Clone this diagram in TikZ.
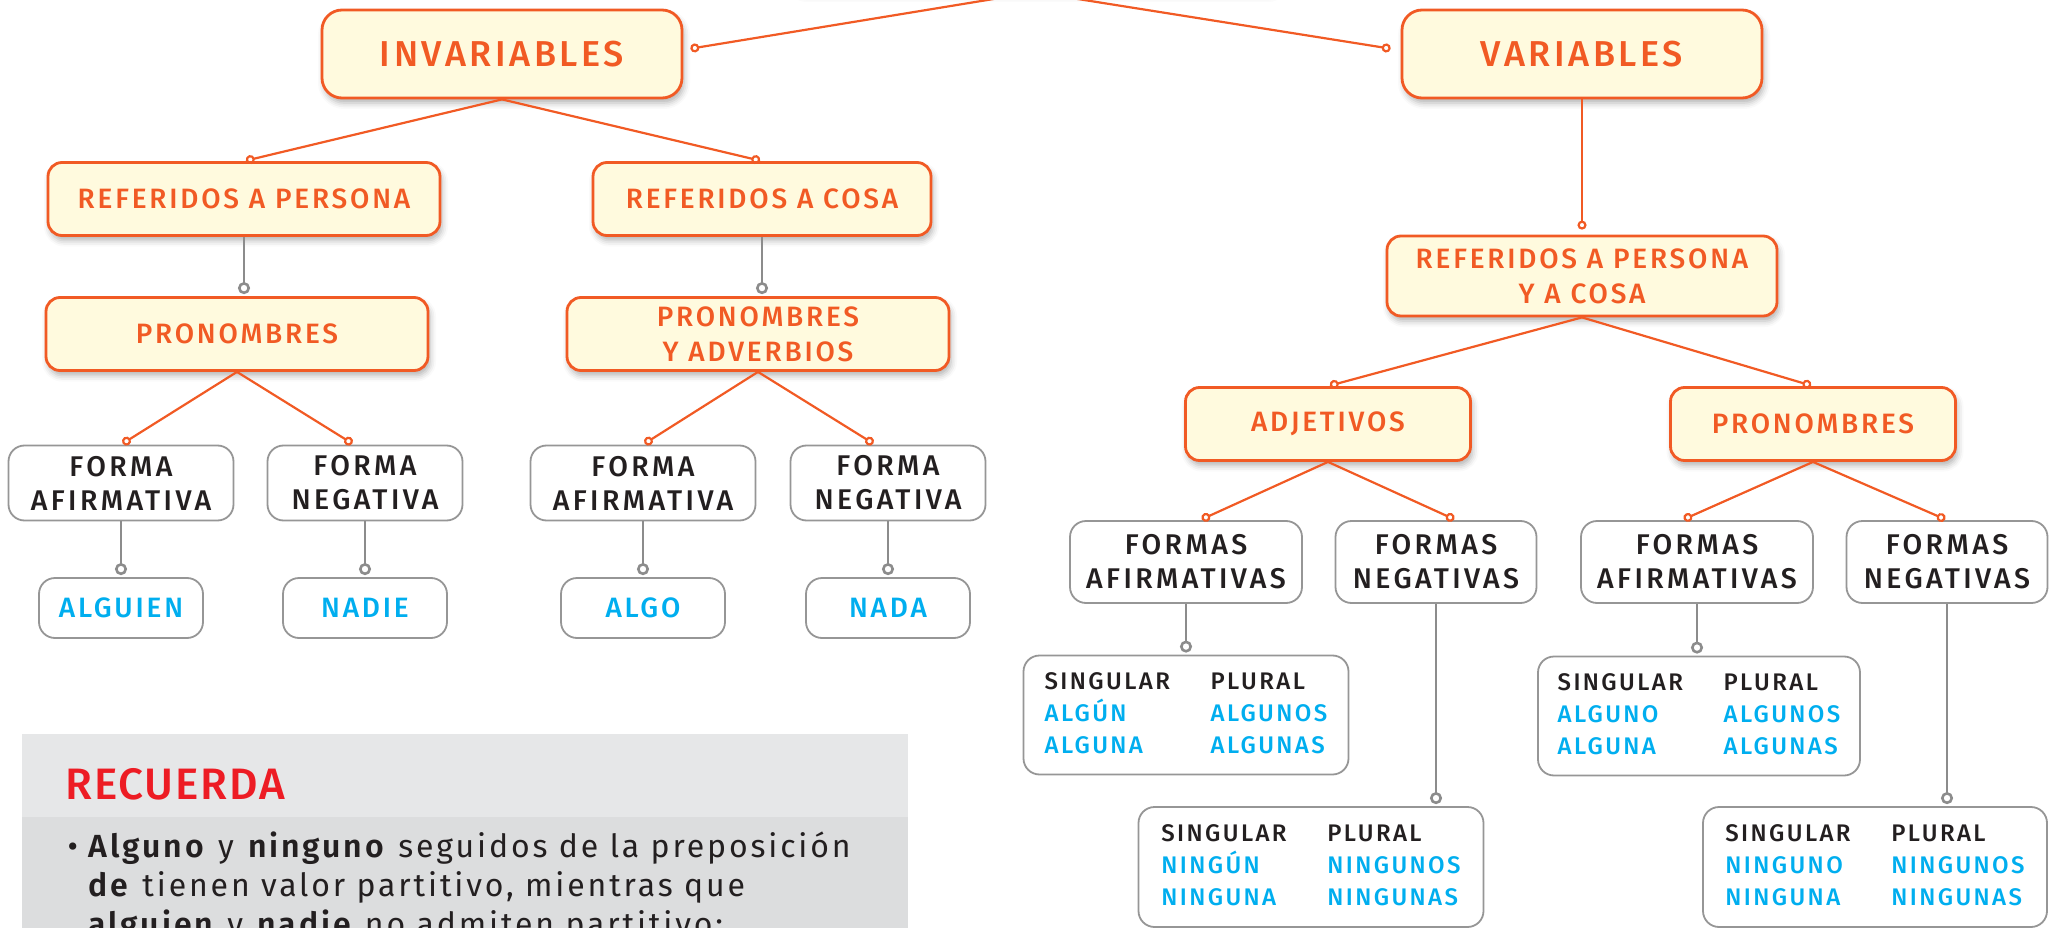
\documentclass[tikz,border=0pt]{standalone}
\usepackage{fontspec}
\setmainfont{Fira Sans}[BoldFont={Fira Sans SemiBold}, LetterSpace=9]
\newfontfamily\lblfont{Fira Sans Medium}[LetterSpace=10]
\newfontfamily\grfont{Fira Sans Medium}[LetterSpace=12]
\newfontfamily\headfont{Fira Sans Medium}[LetterSpace=4]
\usetikzlibrary{positioning,arrows.meta,shadows.blur}
\definecolor{orng}{RGB}{241,90,36}
\definecolor{cream}{RGB}{255,250,222}
\definecolor{azul}{RGB}{0,174,239}
\definecolor{ink}{RGB}{35,31,32}
\definecolor{gline}{RGB}{140,140,140}
\definecolor{gborder}{RGB}{150,150,150}
\definecolor{hdrgray}{RGB}{230,231,232}
\definecolor{bodygray}{RGB}{220,221,222}
\definecolor{rojo}{RGB}{237,28,36}
\newcommand{\tabla}[4]{\begin{tabular}{@{}l@{}l@{}}\makebox[166pt][l]{\color{ink}SINGULAR} & \color{ink}PLURAL\\ \makebox[166pt][l]{#1} & #3\\ \makebox[166pt][l]{#2} & #4\end{tabular}}
\tikzset{>=latex}
\tikzset{
  obox/.style={draw=orng, line width=2.8pt, fill=cream, rounded corners=14pt, text=orng, align=center,
    font=\lblfont\fontsize{28}{35}\selectfont, minimum height=73pt,
    blur shadow={shadow xshift=2pt, shadow yshift=-5pt, shadow blur radius=6pt, shadow opacity=30}},
  bigbox/.style={obox, rounded corners=20pt, minimum width=360pt, minimum height=88pt, font=\lblfont\fontsize{36}{40}\selectfont},
  gbox/.style={draw=gborder, line width=1.8pt, fill=white, rounded corners=16pt, text=ink, align=center,
    font=\grfont\fontsize{28.5}{34}\selectfont, minimum height=75pt},
  wbox/.style={gbox, text=azul, font=\lblfont\fontsize{28}{34}\selectfont, minimum width=164pt, minimum height=60pt},
  tbox/.style={gbox, text=azul, font=\lblfont\fontsize{24}{32}\selectfont, minimum height=119pt, align=left},
  olink/.style={draw=orng, line width=2.2pt, -{Circle[open,length=9pt,width=9pt]}, shorten >=2pt},
  glink/.style={draw=gline, line width=2.6pt, -{Circle[open,length=12pt,width=12pt]}, shorten >=2pt},
}
\begin{document}
\begin{tikzpicture}[x=1pt,y=-1pt]
\useasboundingbox (0,0) rectangle (2054,928);
\clip (0,0) rectangle (2054,928);
\fill[hdrgray] (22,734) rectangle (908,817);
\fill[bodygray] (22,817) rectangle (908,940);
\node[anchor=base west, text=rojo, font=\headfont\fontsize{44}{48}\selectfont] (rec) at (62,799) {RECUERDA};
\node[anchor=base west, text=ink, font=\fontsize{32}{39}\selectfont] (l1) at (64,857) {\makebox[21pt][l]{•}\textbf{Alguno} y \textbf{ninguno} seguidos de la preposición};
\node[anchor=base west, text=ink, font=\fontsize{32}{39}\selectfont] (l2) at (85,896) {\textbf{de} tienen valor partitivo, mientras que};
\node[anchor=base west, text=ink, font=\fontsize{32}{39}\selectfont] (l3) at (85,935) {\textbf{alguien} y \textbf{nadie} no admiten partitivo:};

\node[fill=white, minimum width=490pt, minimum height=64pt, rounded corners=14pt,
  blur shadow={shadow yshift=-4pt, shadow blur radius=6pt, shadow opacity=25}] (n0) at (1035,-40) {};
\node[bigbox] (n1) at (502,54) {INVARIABLES};
\node[bigbox, right of=n1, node distance=1080pt] (n2) {VARIABLES};
\node[obox, minimum width=392pt, below of=n1, node distance=145pt, xshift=-258pt] (n3) {REFERIDOS A PERSONA};
\node[obox, minimum width=338pt, right of=n3, node distance=518pt] (n4) {REFERIDOS A COSA};
\node[obox, minimum width=382pt, below of=n3, node distance=135pt, xshift=-7pt] (n5) {PRONOMBRES};
\node[obox, minimum width=382pt, below of=n4, node distance=135pt, xshift=-4pt] (n6) {PRONOMBRES\\Y ADVERBIOS};
\node[gbox, minimum width=225pt, below of=n5, node distance=149pt, xshift=-116pt] (n7) {FORMA\\AFIRMATIVA};
\node[gbox, minimum width=195pt, right of=n7, node distance=244pt] (n8) {FORMA\\NEGATIVA};
\node[gbox, minimum width=225pt, below of=n6, node distance=149pt, xshift=-115pt] (n9) {FORMA\\AFIRMATIVA};
\node[gbox, minimum width=195pt, right of=n9, node distance=245pt] (n10) {FORMA\\NEGATIVA};
\node[wbox, below of=n7, node distance=125pt] (n11) {ALGUIEN};
\node[wbox, below of=n8, node distance=125pt] (n12) {NADIE};
\node[wbox, below of=n9, node distance=125pt] (n13) {ALGO};
\node[wbox, below of=n10, node distance=125pt] (n14) {NADA};

\node[obox, minimum width=390pt, minimum height=80pt, below of=n2, node distance=222pt] (n15) {REFERIDOS A PERSONA\\Y A COSA};
\node[obox, minimum width=285pt, below of=n15, node distance=148pt, xshift=-254pt] (n16) {ADJETIVOS};
\node[obox, minimum width=285pt, right of=n16, node distance=485pt] (n17) {PRONOMBRES};
\node[gbox, minimum width=232pt, minimum height=82pt, below of=n16, node distance=138pt, xshift=-142pt] (n18) {FORMAS\\AFIRMATIVAS};
\node[gbox, minimum width=201pt, minimum height=82pt, right of=n18, node distance=250pt] (n19) {FORMAS\\NEGATIVAS};
\node[gbox, minimum width=232pt, minimum height=82pt, below of=n17, node distance=138pt, xshift=-116pt] (n20) {FORMAS\\AFIRMATIVAS};
\node[gbox, minimum width=201pt, minimum height=82pt, right of=n20, node distance=250pt] (n21) {FORMAS\\NEGATIVAS};
\node[tbox, minimum width=325pt, below of=n18, node distance=153pt] (n22) {\tabla{ALGÚN}{ALGUNA}{ALGUNOS}{ALGUNAS}};
\node[tbox, minimum width=345pt, minimum height=120pt, below of=n19, node distance=305pt, xshift=-125pt] (n23) {\tabla{NINGÚN}{NINGUNA}{NINGUNOS}{NINGUNAS}};
\node[tbox, minimum width=322pt, below of=n20, node distance=154pt, xshift=2pt] (n24) {\tabla{ALGUNO}{ALGUNA}{ALGUNOS}{ALGUNAS}};
\node[tbox, minimum width=344pt, minimum height=120pt, below of=n21, node distance=305pt, xshift=-72pt] (n25) {\tabla{NINGUNO}{NINGUNA}{NINGUNOS}{NINGUNAS}};

\draw[olink] (n0.south) -- ([xshift=5pt,yshift=5pt]n1.east);
\draw[olink] (n0.south) -- ([xshift=-8pt,yshift=5pt]n2.west);
\draw[olink] (n1.south) -- (n3.north);
\draw[olink] (n1.south) -- (n4.north);
\draw[glink] (n3.south) -- (n3.south |- n5.north);
\draw[glink] (n4.south) -- (n4.south |- n6.north);
\draw[olink] (n5.south) -- (n7.north);
\draw[olink] (n5.south) -- ([xshift=-11pt]n8.north);
\draw[olink] (n6.south) -- (n9.north);
\draw[olink] (n6.south) -- ([xshift=-13pt]n10.north);
\draw[glink] (n7) -- (n11);
\draw[glink] (n8) -- (n12);
\draw[glink] (n9) -- (n13);
\draw[glink] (n10) -- (n14);
\draw[olink, shorten >=5pt] (n2.south) -- (n15.north);
\draw[olink] (n15.south) -- (n16.north);
\draw[olink] (n15.south) -- (n17.north);
\draw[olink] (n16.south) -- ([xshift=14pt]n18.north);
\draw[olink] (n16.south) -- ([xshift=20pt]n19.north);
\draw[olink] (n17.south) -- ([xshift=-15pt]n20.north);
\draw[olink] (n17.south) -- (n21.north);
\draw[glink] (n18) -- (n22);
\draw[glink] (n19.south) -- (n19.south |- n23.north);
\draw[glink] (n20.south) -- (n20.south |- n24.north);
\draw[glink] (n21.south) -- (n21.south |- n25.north);
\end{tikzpicture}
\end{document}
